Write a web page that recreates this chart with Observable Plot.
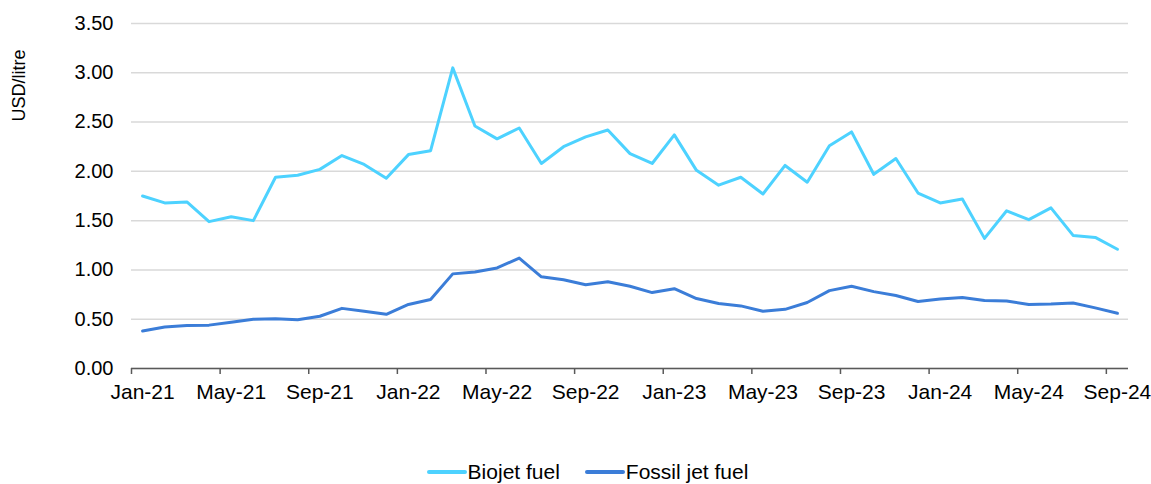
<!DOCTYPE html>
<html>
<head>
<meta charset="utf-8">
<script src="https://cdn.jsdelivr.net/npm/d3@7"></script>
<script src="https://cdn.jsdelivr.net/npm/@observablehq/plot@0.6"></script>
<style>
  html, body { margin: 0; padding: 0; background: #fff; }
  body { width: 1151px; height: 484px; position: relative; overflow: hidden; font-family: "Liberation Sans", Arial, sans-serif; }
  #legend { position: absolute; left: 0; top: 460px; width: 1151px; display: flex; justify-content: center; align-items: center; font-size: 21px; line-height: 24px; color: #000; padding-left: 24px; box-sizing: border-box; }
  .item { display: flex; align-items: center; }
  .item + .item { margin-left: 25px; }
  .sw { width: 40px; height: 4px; border-radius: 2px; margin-right: 1px; }
</style>
</head>
<body>
<div id="chart"></div>
<div id="legend"></div>
<script>
const months = [
  "Jan-21","Feb-21","Mar-21","Apr-21","May-21","Jun-21","Jul-21","Aug-21","Sep-21","Oct-21","Nov-21","Dec-21",
  "Jan-22","Feb-22","Mar-22","Apr-22","May-22","Jun-22","Jul-22","Aug-22","Sep-22","Oct-22","Nov-22","Dec-22",
  "Jan-23","Feb-23","Mar-23","Apr-23","May-23","Jun-23","Jul-23","Aug-23","Sep-23","Oct-23","Nov-23","Dec-23",
  "Jan-24","Feb-24","Mar-24","Apr-24","May-24","Jun-24","Jul-24","Aug-24","Sep-24"
];
const biojet = [
  1.75, 1.68, 1.69, 1.49, 1.54, 1.50, 1.94, 1.96, 2.02, 2.16, 2.07, 1.93,
  2.17, 2.21, 3.05, 2.46, 2.33, 2.44, 2.08, 2.25, 2.35, 2.42, 2.18, 2.08,
  2.37, 2.01, 1.86, 1.94, 1.77, 2.06, 1.89, 2.26, 2.40, 1.97, 2.13, 1.78,
  1.68, 1.72, 1.32, 1.60, 1.51, 1.63, 1.35, 1.33, 1.21
];
const fossil = [
  0.38, 0.42, 0.435, 0.44, 0.47, 0.50, 0.505, 0.495, 0.53, 0.61, 0.58, 0.55,
  0.65, 0.70, 0.96, 0.98, 1.02, 1.12, 0.93, 0.90, 0.85, 0.88, 0.835, 0.77,
  0.81, 0.71, 0.66, 0.635, 0.58, 0.60, 0.67, 0.79, 0.835, 0.78, 0.74, 0.68,
  0.705, 0.72, 0.69, 0.685, 0.65, 0.655, 0.665, 0.615, 0.56
];
const seriesNames = ["Biojet fuel", "Fossil jet fuel"];
const seriesColors = ["#4dd2ff", "#3b7dd8"];
const yTicks = [0, 0.5, 1, 1.5, 2, 2.5, 3, 3.5];
const xLabelMonths = ["Jan-21","May-21","Sep-21","Jan-22","May-22","Sep-22","Jan-23","May-23","Sep-23","Jan-24","May-24","Sep-24"];
const yLabel = "USD/litre";

const data = [];
months.forEach((m, i) => {
  data.push({i, month: m, series: seriesNames[0], value: biojet[i]});
  data.push({i, month: m, series: seriesNames[1], value: fossil[i]});
});
const labelIdx = xLabelMonths.map(m => months.indexOf(m));
const boundaries = labelIdx.map(i => i - 0.5);

const chart = Plot.plot({
  width: 1151,
  height: 420,
  marginLeft: 131,
  marginRight: 23,
  marginTop: 23,
  marginBottom: 52,
  style: { fontFamily: "'Liberation Sans', Arial, sans-serif", fontSize: "20px", color: "#000", background: "#fff" },
  x: { type: "linear", domain: [-0.5, months.length - 0.5] },
  y: { domain: [0, 3.5] },
  color: { domain: seriesNames, range: seriesColors },
  marks: [
    Plot.gridY(yTicks, { stroke: "#d9d9d9", strokeOpacity: 1, strokeWidth: 1.5 }),
    Plot.axisY(yTicks, { tickSize: 0, tickPadding: 18, tickFormat: d => d.toFixed(2), label: null, fontSize: 20 }),
    Plot.axisX(boundaries, { tickSize: 6, tickFormat: () => "", label: null, stroke: "#595959", strokeWidth: 1.5 }),
    Plot.axisX(labelIdx, { tickSize: 0, tickPadding: 16, tickFormat: i => months[i], label: null, fontSize: 21 }),
    Plot.ruleY([0], { stroke: "#595959", strokeWidth: 1.5 }),
    Plot.line(data, { x: "i", y: "value", z: "series", stroke: "series", strokeWidth: 3, strokeLinejoin: "round", strokeLinecap: "round" }),
    Plot.text([yLabel], { frameAnchor: "top-left", dx: -112, dy: 62, rotate: -90, textAnchor: "middle", lineAnchor: "middle", fontSize: 18, fill: "#000" })
  ]
});
document.getElementById("chart").appendChild(chart);

const legend = document.getElementById("legend");
seriesNames.forEach((name, k) => {
  const it = document.createElement("div");
  it.className = "item";
  const sw = document.createElement("div");
  sw.className = "sw";
  sw.style.background = seriesColors[k];
  const tx = document.createElement("span");
  tx.textContent = name;
  it.appendChild(sw);
  it.appendChild(tx);
  legend.appendChild(it);
});
</script>
</body>
</html>
